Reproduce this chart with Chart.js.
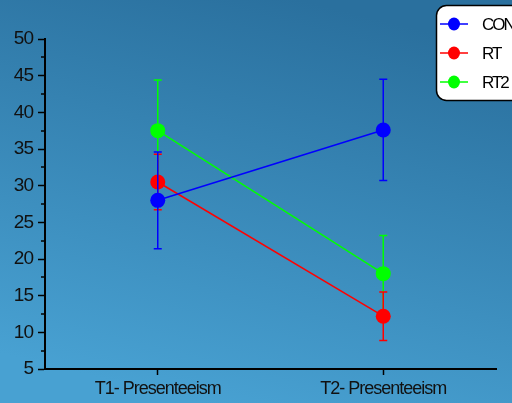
<!DOCTYPE html>
<html>
<head>
<meta charset="utf-8">
<script src="https://cdn.jsdelivr.net/npm/chart.js@4/dist/chart.umd.min.js"></script>
<style>
  html, body { margin: 0; padding: 0; }
  #wrap { width: 512px; height: 403px; }
</style>
</head>
<body>
<div id="wrap"><canvas id="chart" width="512" height="403"></canvas></div>
<script>
// data
const categories = ["T1- Presenteeism", "T2- Presenteeism"];
const groups = ["CON", "RT", "RT2"];
const conMeans = [28.0, 37.6];
const conErr = [6.6, 6.9];
const rtMeans = [30.5, 12.2];
const rtErr = [3.8, 3.3];
const rt2Means = [37.5, 18.0];
const rt2Err = [6.9, 5.2];
const yTicks = [5, 10, 15, 20, 25, 30, 35, 40, 45, 50];

const colors = ["#0000ff", "#ff0000", "#00ff00"];
const means = [conMeans, rtMeans, rt2Means];
const errs = [conErr, rtErr, rt2Err];

const FONT = "'Liberation Sans', Arial, sans-serif";

// blue gradient behind everything, tight text like the original
const background = {
  id: "background",
  beforeDraw(chart) {
    const c = chart.ctx;
    c.letterSpacing = "-1px";
    const g = c.createLinearGradient(300, 0, 200, chart.height);
    g.addColorStop(0, "#2a709e");
    g.addColorStop(1, "#48a1d2");
    c.save();
    c.fillStyle = g;
    c.fillRect(0, 0, chart.width, chart.height);
    c.restore();
  }
};

// error bars, drawn right after each dataset
const errorBars = {
  id: "errorBars",
  afterDatasetDraw(chart, args) {
    const i = args.index;
    const c = chart.ctx;
    const x = chart.scales.x, y = chart.scales.y;
    c.save();
    c.strokeStyle = colors[i];
    c.lineWidth = 1.5;
    means[i].forEach((m, j) => {
      const px = x.getPixelForValue(j);
      const top = y.getPixelForValue(m + errs[i][j]);
      const bot = y.getPixelForValue(m - errs[i][j]);
      c.beginPath();
      c.moveTo(px, top); c.lineTo(px, bot);
      c.moveTo(px - 4, top); c.lineTo(px + 4, top);
      c.moveTo(px - 4, bot); c.lineTo(px + 4, bot);
      c.stroke();
    });
    c.restore();
  }
};

// minor ticks on y axis + legend box
const extras = {
  id: "extras",
  afterDraw(chart) {
    const c = chart.ctx;
    const y = chart.scales.y;
    const left = chart.chartArea.left;
    c.save();
    c.strokeStyle = "#000";
    c.lineWidth = 1.5;
    for (let k = 0; k < yTicks.length - 1; k++) {
      const py = Math.round(y.getPixelForValue((yTicks[k] + yTicks[k + 1]) / 2));
      c.beginPath();
      c.moveTo(left - 4, py); c.lineTo(left, py);
      c.stroke();
    }

    // legend
    const bx = 436.5, by = 5.5, bw = 90, bh = 95, r = 10;
    c.beginPath();
    c.roundRect(bx, by, bw, bh, r);
    c.fillStyle = "#ffffff";
    c.fill();
    c.lineWidth = 1.5;
    c.strokeStyle = "#000";
    c.stroke();
    c.font = "17px " + FONT;
    c.letterSpacing = "-2px";
    c.textBaseline = "middle";
    groups.forEach((g, i) => {
      const ly = 24 + i * 29;
      c.strokeStyle = colors[i];
      c.lineWidth = 1.5;
      c.beginPath();
      c.moveTo(440, ly); c.lineTo(468, ly);
      c.stroke();
      c.fillStyle = colors[i];
      c.beginPath();
      c.ellipse(454, ly, 6, 6.5, 0, 0, Math.PI * 2);
      c.fill();
      c.fillStyle = "#000";
      c.fillText(g, 482, ly + 1);
    });
    c.restore();
  }
};

new Chart(document.getElementById("chart"), {
  type: "line",
  data: {
    labels: categories,
    datasets: groups.map((g, i) => ({
      label: g,
      data: means[i],
      borderColor: colors[i],
      backgroundColor: colors[i],
      borderWidth: 1.5,
      pointRadius: 7.5,
      pointHoverRadius: 7.5,
      pointBorderWidth: 0,
      tension: 0
    }))
  },
  options: {
    responsive: false,
    animation: false,
    devicePixelRatio: 1,
    layout: { padding: { top: 39, right: 16, left: 0, bottom: 0 } },
    plugins: { legend: { display: false }, tooltip: { enabled: false } },
    scales: {
      x: {
        type: "category",
        offset: true,
        afterFit: (s) => { s.height = 34; },
        border: { color: "#000", width: 2 },
        grid: { offset: false, drawOnChartArea: false, drawTicks: true, tickLength: 6, tickColor: "#000", tickWidth: 1.5 },
        ticks: { color: "#111", font: { family: FONT, size: 18 }, padding: 3, maxRotation: 0 }
      },
      y: {
        min: 5,
        max: 50,
        afterFit: (s) => { s.width = 45; },
        afterBuildTicks: (s) => { s.ticks = yTicks.map(v => ({ value: v })); },
        border: { color: "#000", width: 2 },
        grid: { drawOnChartArea: false, drawTicks: true, tickLength: 7, tickColor: "#000", tickWidth: 1.5 },
        ticks: { color: "#111", font: { family: FONT, size: 19 }, padding: 5 }
      }
    }
  },
  plugins: [background, errorBars, extras]
});
</script>
</body>
</html>
